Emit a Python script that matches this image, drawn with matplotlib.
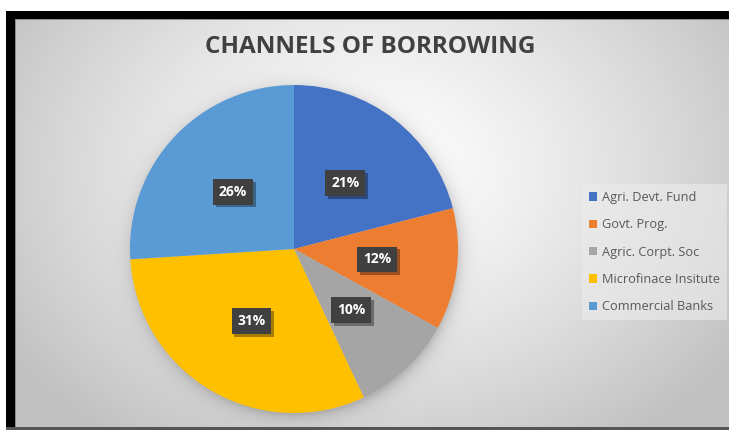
import numpy as np
import matplotlib
matplotlib.use("Agg")
import matplotlib.pyplot as plt
from matplotlib.patches import Rectangle, Patch
from matplotlib import patheffects as pe

# Borrowing channels and their shares (%)
categories = ["Agri. Devt. Fund", "Govt. Prog.", "Agric. Corpt. Soc",
              "Microfinace Insitute", "Commercial Banks"]
shares = [21, 12, 10, 31, 26]
colors = ["#4472C4", "#ED7D31", "#A5A5A5", "#FFC000", "#5B9BD5"]
title = "CHANNELS OF BORROWING"

plt.rcParams['font.family'] = ['Open Sans', 'DejaVu Sans']

W, H = 729, 430
fig = plt.figure(figsize=(W / 100, H / 100), dpi=100)
fig.patch.set_facecolor("white")

# ---- background: radial grey gradient with a soft shadow under the pie ----
bg = fig.add_axes([0, 0, 1, 1])
bg.axis("off")

yy, xx = np.mgrid[0:H, 0:W] + 0.5
d = np.sqrt(((xx - 372) / 430.0) ** 2 + ((yy - 170) / 330.0) ** 2)
val = 1.0 - 0.24 * np.clip(d, 0, 1.0) ** 1.3

pcx, pcy, R = 294, 249, 164
rr = np.sqrt((xx - pcx - 2) ** 2 + (yy - pcy - 3) ** 2)
shadow = 0.15 * np.exp(-np.clip(rr - R + 2, 0, None) / 7.0)
val = np.clip(val - shadow, 0, 1)

# white margin outside the framed chart area
val[:11, :] = 1.0
val[:, :6] = 1.0

img = np.dstack([val, val, val])
bg.imshow(img, extent=(0, W, H, 0), interpolation="nearest", zorder=0,
          aspect="auto")
bg.set_xlim(0, W)
bg.set_ylim(H, 0)


def frame_rect(x, y, w, h, color):
    # rectangle given in top-left pixel coordinates of the figure
    fig.add_artist(Rectangle((x / W, 1 - (y + h) / H), w / W, h / H,
                             transform=fig.transFigure, fc=color, ec="none",
                             zorder=5))


frame_rect(6, 11, W, 8, "black")
frame_rect(6, 11, 9, H - 11, "black")
frame_rect(15, 19, W, 1.2, "#8a8a8a")
frame_rect(15, 19, 1.2, H, "#8a8a8a")
frame_rect(6, 427, W, 3, "#555555")

# ---- pie ----
ax = fig.add_axes([(pcx - R) / W, (H - pcy - R) / H, 2 * R / W, 2 * R / H])
wedges, texts, autotexts = ax.pie(
    shares, colors=colors, startangle=90, counterclock=False,
    autopct=lambda p: f"{p:.0f}%", pctdistance=0.51,
    wedgeprops=dict(linewidth=0),
    textprops=dict(color="white", fontsize=10, fontweight="bold"))
ax.set_xlim(-1, 1)
ax.set_ylim(-1, 1)
ax.set_aspect("equal")
ax.axis("off")

for t in autotexts:
    t.set_bbox(dict(boxstyle="square,pad=0.42", fc="#404040", ec="none"))
    t.get_bbox_patch().set_path_effects([
        pe.SimplePatchShadow(offset=(2, -2), shadow_rgbFace="black", alpha=0.35),
        pe.Normal()])

# ---- title ----
fig.text(370 / W, 1 - 47 / H, title, ha="center", va="center",
         fontsize=17.5, fontweight="bold", color="#404040")

# ---- legend ----
handles = [Patch(facecolor=c, edgecolor="none") for c in colors]
leg = fig.legend(handles, categories, loc="upper left",
                 bbox_to_anchor=(582 / W, 1 - 184 / H),
                 frameon=True, fancybox=False, fontsize=9.2,
                 labelcolor="#595959", handlelength=0.65, handleheight=0.65,
                 handletextpad=0.35, labelspacing=1.12, borderpad=0.55,
                 borderaxespad=0)
frame = leg.get_frame()
frame.set_facecolor("#ececec")
frame.set_alpha(0.6)
frame.set_edgecolor("none")

fig.savefig("out.png", dpi=100, facecolor=fig.get_facecolor())
